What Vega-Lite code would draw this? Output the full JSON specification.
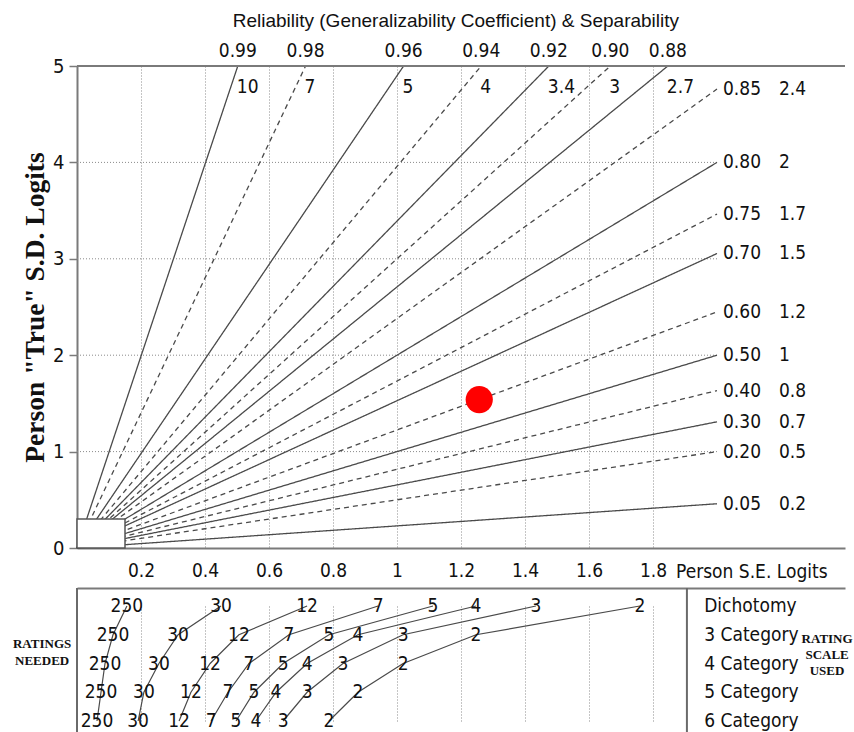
{
  "$schema": "https://vega.github.io/schema/vega-lite/v6.json",
  "padding": {"left": 12, "top": 12, "right": 0, "bottom": 0},
  "spacing": 40,
  "bounds": "flush",
  "datasets": {
    "lines": [
      {"R": "0.99", "G": "10", "style": "solid", "pos": "top", "x0": 0, "y0": 0, "xe": 0.5025, "ye": 5},
      {"R": "0.98", "G": "7", "style": "dashed", "pos": "top", "x0": 0, "y0": 0, "xe": 0.7143, "ye": 5},
      {"R": "0.96", "G": "5", "style": "solid", "pos": "top", "x0": 0, "y0": 0, "xe": 1.0206, "ye": 5},
      {"R": "0.94", "G": "4", "style": "dashed", "pos": "top", "x0": 0, "y0": 0, "xe": 1.2632, "ye": 5},
      {"R": "0.92", "G": "3.4", "style": "solid", "pos": "top", "x0": 0, "y0": 0, "xe": 1.4745, "ye": 5},
      {"R": "0.90", "G": "3", "style": "dashed", "pos": "top", "x0": 0, "y0": 0, "xe": 1.6667, "ye": 5},
      {"R": "0.88", "G": "2.7", "style": "solid", "pos": "top", "x0": 0, "y0": 0, "xe": 1.8464, "ye": 5},
      {"R": "0.85", "G": "2.4", "style": "dashed", "pos": "right", "x0": 0, "y0": 0, "xe": 2, "ye": 4.761},
      {"R": "0.80", "G": "2", "style": "solid", "pos": "right", "x0": 0, "y0": 0, "xe": 2, "ye": 4.0},
      {"R": "0.75", "G": "1.7", "style": "dashed", "pos": "right", "x0": 0, "y0": 0, "xe": 2, "ye": 3.464},
      {"R": "0.70", "G": "1.5", "style": "solid", "pos": "right", "x0": 0, "y0": 0, "xe": 2, "ye": 3.055},
      {"R": "0.60", "G": "1.2", "style": "dashed", "pos": "right", "x0": 0, "y0": 0, "xe": 2, "ye": 2.449},
      {"R": "0.50", "G": "1", "style": "solid", "pos": "right", "x0": 0, "y0": 0, "xe": 2, "ye": 2.0},
      {"R": "0.40", "G": "0.8", "style": "dashed", "pos": "right", "x0": 0, "y0": 0, "xe": 2, "ye": 1.633},
      {"R": "0.30", "G": "0.7", "style": "solid", "pos": "right", "x0": 0, "y0": 0, "xe": 2, "ye": 1.309},
      {"R": "0.20", "G": "0.5", "style": "dashed", "pos": "right", "x0": 0, "y0": 0, "xe": 2, "ye": 1.0},
      {"R": "0.05", "G": "0.2", "style": "solid", "pos": "right", "x0": 0, "y0": 0, "xe": 2, "ye": 0.459}
    ],
    "ratings": [
      {"scale": "Dichotomy", "n": "250", "se": 0.156},
      {"scale": "Dichotomy", "n": "30", "se": 0.45},
      {"scale": "Dichotomy", "n": "12", "se": 0.719},
      {"scale": "Dichotomy", "n": "7", "se": 0.941},
      {"scale": "Dichotomy", "n": "5", "se": 1.1125},
      {"scale": "Dichotomy", "n": "4", "se": 1.247},
      {"scale": "Dichotomy", "n": "3", "se": 1.434},
      {"scale": "Dichotomy", "n": "2", "se": 1.759},
      {"scale": "3 Category", "n": "250", "se": 0.1125},
      {"scale": "3 Category", "n": "30", "se": 0.316},
      {"scale": "3 Category", "n": "12", "se": 0.506},
      {"scale": "3 Category", "n": "7", "se": 0.6625},
      {"scale": "3 Category", "n": "5", "se": 0.7875},
      {"scale": "3 Category", "n": "4", "se": 0.878},
      {"scale": "3 Category", "n": "3", "se": 1.019},
      {"scale": "3 Category", "n": "2", "se": 1.247},
      {"scale": "4 Category", "n": "250", "se": 0.0875},
      {"scale": "4 Category", "n": "30", "se": 0.256},
      {"scale": "4 Category", "n": "12", "se": 0.416},
      {"scale": "4 Category", "n": "7", "se": 0.5375},
      {"scale": "4 Category", "n": "5", "se": 0.644},
      {"scale": "4 Category", "n": "4", "se": 0.719},
      {"scale": "4 Category", "n": "3", "se": 0.831},
      {"scale": "4 Category", "n": "2", "se": 1.019},
      {"scale": "5 Category", "n": "250", "se": 0.075},
      {"scale": "5 Category", "n": "30", "se": 0.209},
      {"scale": "5 Category", "n": "12", "se": 0.356},
      {"scale": "5 Category", "n": "7", "se": 0.472},
      {"scale": "5 Category", "n": "5", "se": 0.553},
      {"scale": "5 Category", "n": "4", "se": 0.622},
      {"scale": "5 Category", "n": "3", "se": 0.719},
      {"scale": "5 Category", "n": "2", "se": 0.878},
      {"scale": "6 Category", "n": "250", "se": 0.0625},
      {"scale": "6 Category", "n": "30", "se": 0.191},
      {"scale": "6 Category", "n": "12", "se": 0.319},
      {"scale": "6 Category", "n": "7", "se": 0.419},
      {"scale": "6 Category", "n": "5", "se": 0.497},
      {"scale": "6 Category", "n": "4", "se": 0.559},
      {"scale": "6 Category", "n": "3", "se": 0.644},
      {"scale": "6 Category", "n": "2", "se": 0.7875}
    ],
    "scales": [
      {"scale": "Dichotomy", "col": 1.96},
      {"scale": "3 Category", "col": 1.96},
      {"scale": "4 Category", "col": 1.96},
      {"scale": "5 Category", "col": 1.96},
      {"scale": "6 Category", "col": 1.96}
    ]
  },
  "vconcat": [
    {
      "width": 768,
      "height": 482,
      "layer": [
        {
          "data": {"values": [{"g": 1, "a": 0, "b": 2}, {"g": 2, "a": 0, "b": 2}, {"g": 3, "a": 0, "b": 2}, {"g": 4, "a": 0, "b": 2}]},
          "mark": {"type": "rule", "color": "#8a8a8a", "strokeDash": [1, 2], "strokeWidth": 1},
          "encoding": {
            "x": {"field": "a", "type": "quantitative", "scale": {"domain": [0, 2.4], "nice": false, "zero": false},
              "axis": {"values": [0.2, 0.4, 0.6, 0.8, 1, 1.2, 1.4, 1.6, 1.8], "format": "~g", "title": null,
                "grid": true, "gridColor": "#8a8a8a", "gridDash": [1, 2], "gridWidth": 1,
                "ticks": false, "domainColor": "#7a7a7a", "domainWidth": 2,
                "labelFont": "DejaVu Sans Condensed, Liberation Sans, sans-serif", "labelFontSize": 19, "labelColor": "#111",
                "labelPadding": 13}},
            "x2": {"field": "b"},
            "y": {"field": "g", "type": "quantitative", "scale": {"domain": [0, 5], "nice": false},
              "axis": {"values": [0, 1, 2, 3, 4, 5], "format": "~g", "grid": false, "tickSize": 8, "tickColor": "#7a7a7a", "tickWidth": 1.5,
                "domainColor": "#7a7a7a", "domainWidth": 2,
                "labelFont": "DejaVu Sans Condensed, Liberation Sans, sans-serif", "labelFontSize": 20, "labelColor": "#111", "labelPadding": 5,
                "title": "Person \"True\" S.D. Logits", "titleFont": "Liberation Serif", "titleFontSize": 27.5, "titleFontWeight": "bold",
                "titleColor": "#111", "titlePadding": 3}}
          }
        },
        {
          "data": {"name": "lines"},
          "mark": {"type": "rule", "color": "#4a4a4a", "strokeWidth": 1.3},
          "encoding": {
            "x": {"field": "x0", "type": "quantitative"},
            "y": {"field": "y0", "type": "quantitative"},
            "x2": {"field": "xe"},
            "y2": {"field": "ye"},
            "strokeDash": {"field": "style", "type": "nominal", "scale": {"domain": ["solid", "dashed"], "range": [[1, 0], [5, 4]]}, "legend": null}
          }
        },
        {
          "data": {"values": [{"x0": 0, "x1": 0.15, "y0": 0, "y1": 0.3}]},
          "mark": {"type": "rect", "fill": "white", "stroke": "#555", "strokeWidth": 1.5},
          "encoding": {
            "x": {"field": "x0", "type": "quantitative"},
            "x2": {"field": "x1"},
            "y": {"field": "y0", "type": "quantitative"},
            "y2": {"field": "y1"}
          }
        },
        {
          "data": {"values": [{"a": 0, "b": 2.4, "top": 5}]},
          "mark": {"type": "rule", "color": "#7a7a7a", "strokeWidth": 2},
          "encoding": {
            "x": {"field": "a", "type": "quantitative"},
            "x2": {"field": "b"},
            "y": {"field": "top", "type": "quantitative"}
          }
        },
        {
          "data": {"name": "lines"},
          "transform": [{"filter": "datum.pos == 'top'"}],
          "mark": {"type": "text", "font": "DejaVu Sans Condensed, Liberation Sans, sans-serif", "fontSize": 19, "color": "#111", "dy": -15, "baseline": "middle", "align": "center"},
          "encoding": {
            "x": {"field": "xe", "type": "quantitative"},
            "y": {"field": "ye", "type": "quantitative"},
            "text": {"field": "R"}
          }
        },
        {
          "data": {"name": "lines"},
          "transform": [{"filter": "datum.pos == 'top'"}],
          "mark": {"type": "text", "font": "DejaVu Sans Condensed, Liberation Sans, sans-serif", "fontSize": 19, "color": "#111", "dy": 21, "dx": -1, "baseline": "middle", "align": "left"},
          "encoding": {
            "x": {"field": "xe", "type": "quantitative"},
            "y": {"field": "ye", "type": "quantitative"},
            "text": {"field": "G"}
          }
        },
        {
          "data": {"name": "lines"},
          "transform": [{"filter": "datum.pos == 'right'"}],
          "mark": {"type": "text", "font": "DejaVu Sans Condensed, Liberation Sans, sans-serif", "fontSize": 19, "color": "#111", "dx": 6, "baseline": "middle", "align": "left"},
          "encoding": {
            "x": {"field": "xe", "type": "quantitative"},
            "y": {"field": "ye", "type": "quantitative"},
            "text": {"field": "R"}
          }
        },
        {
          "data": {"name": "lines"},
          "transform": [{"filter": "datum.pos == 'right'"}],
          "mark": {"type": "text", "font": "DejaVu Sans Condensed, Liberation Sans, sans-serif", "fontSize": 19, "color": "#111", "dx": 62, "baseline": "middle", "align": "left"},
          "encoding": {
            "x": {"field": "xe", "type": "quantitative"},
            "y": {"field": "ye", "type": "quantitative"},
            "text": {"field": "G"}
          }
        },
        {
          "data": {"values": [{"se": 1.257, "sd": 1.54}]},
          "mark": {"type": "point", "filled": true, "color": "#ff0000", "opacity": 1, "size": 740},
          "encoding": {
            "x": {"field": "se", "type": "quantitative"},
            "y": {"field": "sd", "type": "quantitative"}
          }
        },
        {
          "data": {"values": [{"x": 1.872, "y": 0, "t": "Person S.E. Logits"}]},
          "mark": {"type": "text", "font": "DejaVu Sans Condensed, Liberation Sans, sans-serif", "fontSize": 19, "color": "#111", "dy": 24, "baseline": "middle", "align": "left"},
          "encoding": {
            "x": {"field": "x", "type": "quantitative"},
            "y": {"field": "y", "type": "quantitative"},
            "text": {"field": "t"}
          }
        },
        {
          "data": {"values": [{"x": 1.184, "y": 5, "t": "Reliability (Generalizability Coefficient) & Separability"}]},
          "mark": {"type": "text", "font": "Liberation Sans", "fontSize": 19, "color": "#111", "dy": -45, "baseline": "middle", "align": "center"},
          "encoding": {
            "x": {"field": "x", "type": "quantitative"},
            "y": {"field": "y", "type": "quantitative"},
            "text": {"field": "t"}
          }
        }
      ]
    },
    {
      "width": 768,
      "height": 145,
      "layer": [
        {
          "data": {"name": "ratings"},
          "mark": {"type": "line", "color": "#4a4a4a", "strokeWidth": 1.2},
          "encoding": {
            "x": {"field": "se", "type": "quantitative", "scale": {"domain": [0, 2.4], "nice": false, "zero": false},
              "axis": {"orient": "top", "values": [0.2, 0.4, 0.6, 0.8, 1, 1.2, 1.4, 1.6, 1.8], "labels": false, "ticks": false, "title": null,
                "grid": true, "gridColor": "#8a8a8a", "gridDash": [1, 2], "gridWidth": 1,
                "domainColor": "#7a7a7a", "domainWidth": 2}},
            "y": {"field": "scale", "type": "nominal",
              "scale": {"type": "point", "domain": ["Dichotomy", "3 Category", "4 Category", "5 Category", "6 Category"], "range": [18, 133], "padding": 0},
              "axis": null},
            "detail": {"field": "n"}
          }
        },
        {
          "data": {"name": "ratings"},
          "mark": {"type": "text", "font": "DejaVu Sans Condensed, Liberation Sans, sans-serif", "fontSize": 19, "color": "#111", "baseline": "middle", "align": "center"},
          "encoding": {
            "x": {"field": "se", "type": "quantitative"},
            "y": {"field": "scale", "type": "nominal"},
            "text": {"field": "n"}
          }
        },
        {
          "data": {"values": [{"at": 0}, {"at": 1.906}]},
          "mark": {"type": "rule", "color": "#6a6a6a", "strokeWidth": 2},
          "encoding": {
            "x": {"field": "at", "type": "quantitative"}
          }
        },
        {
          "data": {"name": "scales"},
          "mark": {"type": "text", "font": "DejaVu Sans Condensed, Liberation Sans, sans-serif", "fontSize": 19, "color": "#111", "baseline": "middle", "align": "left"},
          "encoding": {
            "x": {"field": "col", "type": "quantitative"},
            "y": {"field": "scale", "type": "nominal"},
            "text": {"field": "scale"}
          }
        },
        {
          "data": {"values": [{"x": -0.109, "row": "3 Category", "t": ["RATINGS", "NEEDED"]}]},
          "mark": {"type": "text", "font": "Liberation Serif", "fontWeight": "bold", "fontSize": 13, "color": "#111", "baseline": "middle", "align": "center", "lineHeight": 17, "dy": 9},
          "encoding": {
            "x": {"field": "x", "type": "quantitative"},
            "y": {"field": "row", "type": "nominal"},
            "text": {"field": "t"}
          }
        },
        {
          "data": {"values": [{"x": 2.344, "row": "3 Category", "t": ["RATING", "SCALE", "USED"]}]},
          "mark": {"type": "text", "font": "Liberation Serif", "fontWeight": "bold", "fontSize": 13, "color": "#111", "baseline": "middle", "align": "center", "lineHeight": 16, "dy": 4},
          "encoding": {
            "x": {"field": "x", "type": "quantitative"},
            "y": {"field": "row", "type": "nominal"},
            "text": {"field": "t"}
          }
        }
      ]
    }
  ],
  "config": {
    "view": {"stroke": null},
    "font": "Liberation Sans"
  }
}
